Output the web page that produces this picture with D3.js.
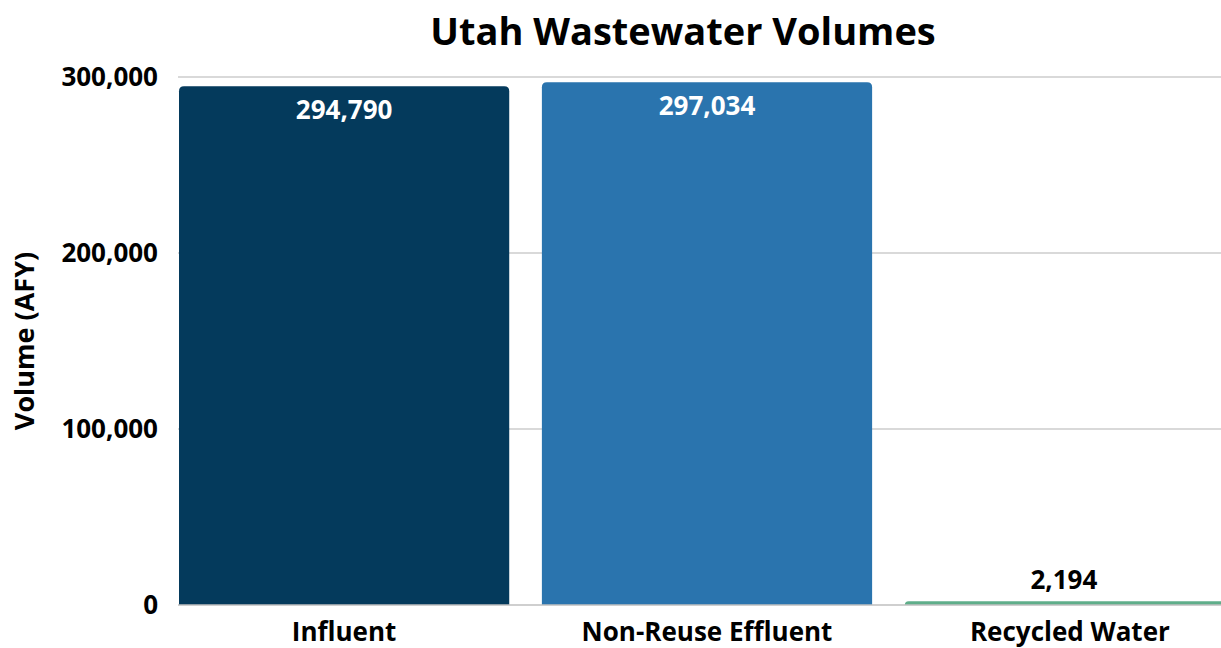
<!DOCTYPE html>
<html>
<head>
<meta charset="utf-8">
<title>Utah Wastewater Volumes</title>
<script src="https://d3js.org/d3.v7.min.js"></script>
<style>
  body { margin: 0; background: #fff; }
  svg { display: block; font-family: "Open Sans", sans-serif; font-weight: 700; }
</style>
</head>
<body>
<svg id="chart" width="1221" height="648"></svg>
<script>
// data
const categories = ["Influent", "Non-Reuse Effluent", "Recycled Water"];
const volumes = [294790, 297034, 2194];
const barColors = ["#043a5c", "#2a74ae", "#5fae8a"];
const yTicks = [0, 100000, 200000, 300000];

const svg = d3.select("#chart");
const plotLeft = 178, plotRight = 1221, plotTop = 77, plotBottom = 605;

const x = d3.scaleBand().domain(categories).range([179, 1235]).paddingInner(0.09).paddingOuter(0);
const y = d3.scaleLinear().domain([0, 300000]).range([plotBottom, plotTop]);
const fmt = d3.format(",");

// title
svg.append("text").attr("x", 683).attr("y", 45).attr("text-anchor", "middle")
  .style("font-size", "38px").attr("fill", "#000").text("Utah Wastewater Volumes");

// gridlines
svg.append("g").selectAll("line").data(yTicks.slice(1)).join("line")
  .attr("x1", plotLeft).attr("x2", plotRight)
  .attr("y1", d => y(d)).attr("y2", d => y(d))
  .attr("stroke", "#d9d9d9").attr("stroke-width", 2);

// y axis labels
svg.append("g").selectAll("text").data(yTicks).join("text")
  .attr("x", 158).attr("y", d => y(d)).attr("dy", "0.35em")
  .attr("text-anchor", "end").style("font-size", "26px").attr("fill", "#000")
  .text(fmt);

svg.append("text").attr("transform", "translate(34,341) rotate(-90)")
  .attr("text-anchor", "middle").style("font-size", "27px").attr("fill", "#000")
  .text("Volume (AFY)");

// bars with rounded top corners
function barPath(d, i) {
  const x0 = x(categories[i]), w = x.bandwidth();
  const y0 = y(d), h = plotBottom - y0;
  const r = Math.min(5, h);
  return `M${x0},${plotBottom} V${y0 + r} Q${x0},${y0} ${x0 + r},${y0} H${x0 + w - r} Q${x0 + w},${y0} ${x0 + w},${y0 + r} V${plotBottom} Z`;
}
svg.append("g").selectAll("path").data(volumes).join("path")
  .attr("d", barPath)
  .attr("fill", (d, i) => barColors[i]);

// baseline
svg.append("line").attr("x1", plotLeft).attr("x2", plotRight)
  .attr("y1", plotBottom).attr("y2", plotBottom)
  .attr("stroke", "#bfbfbf").attr("stroke-width", 1.5);

// value labels
svg.append("g").selectAll("text").data(volumes).join("text")
  .attr("x", (d, i) => x(categories[i]) + x.bandwidth() / 2 - (d > 50000 ? 0 : 6))
  .attr("y", d => d > 50000 ? y(d) + 33 : y(d) - 12)
  .attr("text-anchor", "middle").style("font-size", "26px")
  .attr("fill", d => d > 50000 ? "#fff" : "#000")
  .text(fmt);

// x axis labels
svg.append("g").selectAll("text").data(categories).join("text")
  .attr("x", d => x(d) + x.bandwidth() / 2).attr("y", 641)
  .attr("text-anchor", "middle").style("font-size", "26px").attr("fill", "#000")
  .text(d => d);
</script>
</body>
</html>
